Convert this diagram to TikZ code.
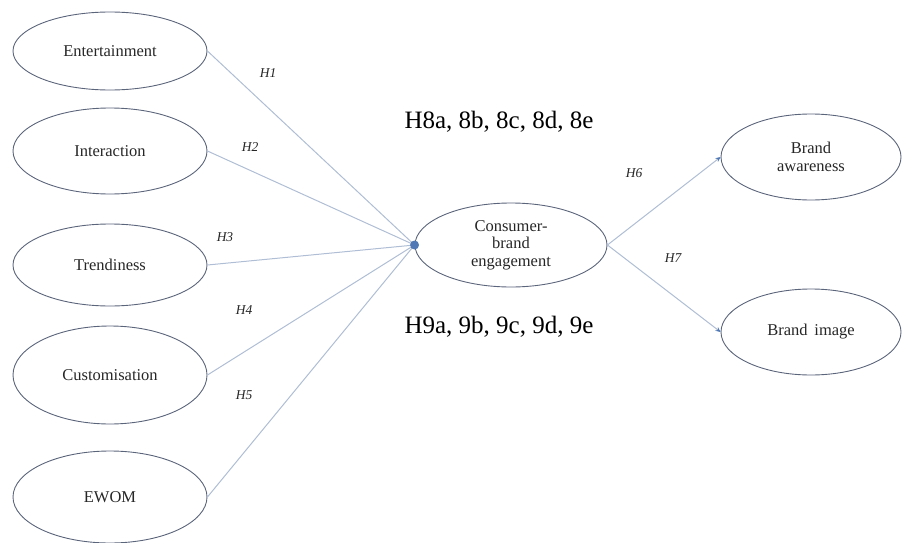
\documentclass[tikz,border=0pt]{standalone}
\usepackage{fontspec}
\setmainfont{Liberation Serif}
\usetikzlibrary{shapes.geometric,arrows.meta}
\definecolor{ellcol}{RGB}{90,100,122}
\definecolor{edgecol}{RGB}{175,190,212}
\definecolor{dotcol}{RGB}{80,120,180}
\tikzset{
  construct/.style={ellipse, draw=ellcol, line width=0.9pt, inner sep=0pt, align=center,
     font=\fontsize{16.5}{17.5}\selectfont, text=black!85},
  link/.style={draw=edgecol, line width=1pt},
  hlab/.style={font=\fontsize{13.5}{14}\selectfont\itshape, text=black!85},
  biglab/.style={font=\fontsize{25}{28}\selectfont},
  tip/.style={-{Stealth[length=5pt,width=4.5pt,color=dotcol]}}
}
\begin{document}
\begin{tikzpicture}[x=1pt,y=-1pt]
\useasboundingbox (0,0) rectangle (902,543);
\node[construct, minimum width=194pt, minimum height=78pt] (ent) at (110,51) {Entertainment};
\node[construct, minimum width=194pt, minimum height=86pt] (int) at (110,151) {Interaction};
\node[construct, minimum width=194pt, minimum height=82pt] (tre) at (110,265) {Trendiness};
\node[construct, minimum width=194pt, minimum height=98pt] (cus) at (110,375) {Customisation};
\node[construct, minimum width=194pt, minimum height=92pt] (ewom) at (110,497) {EWOM};
\node[construct, minimum width=192pt, minimum height=84pt] (cbe) at (511,245) {Consumer-\\brand\\engagement};
\node[construct, minimum width=180pt, minimum height=86pt] (ba) at (811,157) {Brand\\awareness};
\node[construct, minimum width=180pt, minimum height=86pt] (bi) at (811,332) {Brand\, image};
\coordinate (dot) at (cbe.west);
\draw[link] (ent.east) -- (dot);
\draw[link] (int.east) -- (dot);
\draw[link] (tre.east) -- (dot);
\draw[link] (cus.east) -- (dot);
\draw[link] (ewom.east) -- (dot);
\node[circle, fill=dotcol, inner sep=0pt, minimum size=9pt] (dotmark) at (dot) {};
\draw[link, tip] (cbe.east) -- (ba.west);
\draw[link, tip] (cbe.east) -- (bi.west);
\node[hlab] (h1) at (268,73) {H1};
\node[hlab] (h2) at (250,147) {H2};
\node[hlab] (h3) at (225,237) {H3};
\node[hlab] (h4) at (244,310) {H4};
\node[hlab] (h5) at (244,395) {H5};
\node[hlab] (h6) at (634,173) {H6};
\node[hlab] (h7) at (673,258) {H7};
\node[biglab] (h8) at (499,122) {H8a, 8b, 8c, 8d, 8e};
\node[biglab] (h9) at (499,327) {H9a, 9b, 9c, 9d, 9e};
\end{tikzpicture}
\end{document}
